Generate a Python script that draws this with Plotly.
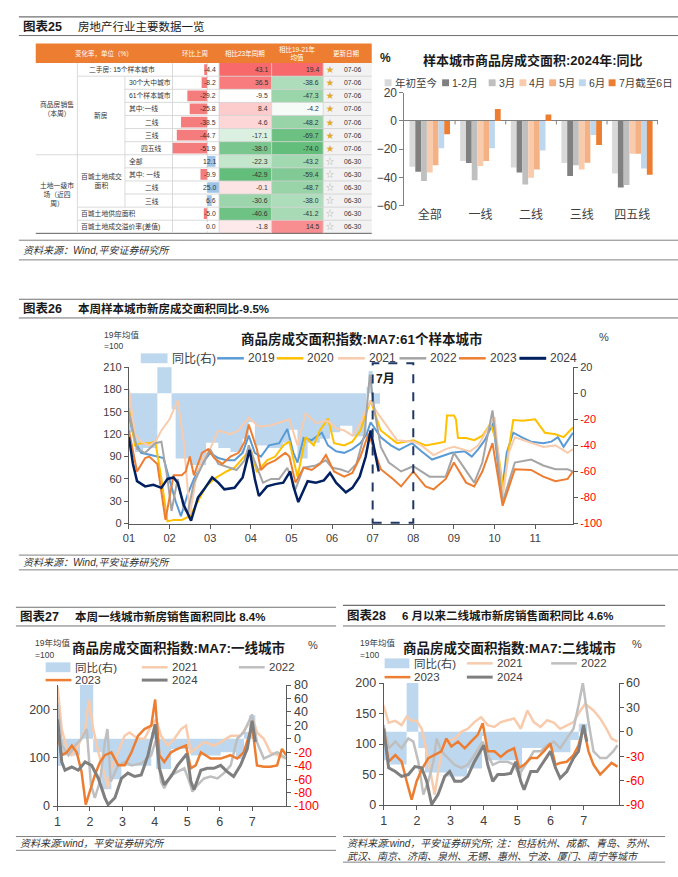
import plotly.graph_objects as go

W, H = 678, 877
FONT = "Liberation Sans, Noto Sans CJK SC, sans-serif"

# ---------------- 图表25 表格 ----------------
tbl_labels = ["二手房: 15个样本城市", "30个大中城市", "61个样本城市", "其中:一线", "二线", "三线", "四五线",
              "全部", "其中: 一线", "二线", "三线", "百城土地供应面积", "百城土地成交溢价率(差值)"]
wow = [-4.4, -8.2, -29.2, -25.8, -38.5, -44.7, -51.9, 12.1, -9.9, 25.0, 6.6, -5.0, 0.0]
vs23 = [43.1, 36.5, -9.5, 8.4, 4.6, -17.1, -38.0, -22.3, -42.9, -0.1, -30.6, -40.6, -1.8]
vs1921 = [19.4, -38.6, -47.3, -4.2, -48.2, -69.7, -74.0, -43.2, -59.4, -48.7, -38.0, -41.2, 14.5]
upd = ["07-06"] * 7 + ["06-30"] * 6

# ---------------- 图表25 柱状图 ----------------
cats = ["全部", "一线", "二线", "三线", "四五线"]
bar_names = ["年初至今", "1-2月", "3月", "4月", "5月", "6月", "7月截至6日"]
ytd = [-32.5, -28.4, -33.0, -29.8, -37.2]
janfeb = [-36.0, -29.8, -36.5, -39.0, -47.0]
mar = [-42.5, -41.9, -44.9, -31.4, -45.3]
apr = [-36.5, -31.9, -40.2, -34.4, -23.3]
may = [-31.4, -28.4, -34.4, -29.5, -23.3]
jun = [-19.3, -19.3, -20.9, -10.0, -33.7]
jul = [-9.5, 8.4, 4.6, -17.1, -38.0]

# ---------------- 图表26 61城 ----------------
c26_yoy_m = [1.0, 1.15, 1.35, 1.7, 2.05, 2.15, 2.5, 2.9, 3.2, 3.5, 3.8, 3.95, 4.1, 4.4, 4.8, 4.95, 5.15, 5.4,
             5.7, 5.95, 6.2, 6.5, 6.85, 6.9, 7.0, 7.18]
c26_yoy = [-30, -45, -42, 150, -12, -50, -55, -38, -42, -45, -35, -22, -40, -42, -38, -28, -50, -38,
           -35, -30, -25, -33, 5, 17, -8, -8]
m19 = [1.0, 1.15, 1.3, 1.5, 1.7, 1.85, 2.0, 2.15, 2.28, 2.45, 2.6, 2.8, 3.0, 3.2, 3.4, 3.6, 3.8, 3.95, 4.1, 4.25,
       4.45, 4.7, 4.9, 5.05, 5.15, 5.3, 5.5, 5.75, 5.9, 6.1, 6.3, 6.5, 6.7, 6.85, 6.95, 7.2, 7.45, 7.65, 7.97, 8.2,
       8.46, 8.7, 8.95, 9.27, 9.44, 9.6, 9.76, 9.97, 10.17, 10.3, 10.46, 10.7, 10.9, 11.2, 11.4, 11.56, 11.7, 11.93]
v19 = [145, 110, 95, 93, 90, 88, 60, 30, 10, 40, 60, 80, 95, 88, 85, 85, 95, 118, 95, 90,
       105, 108, 127, 95, 82, 115, 112, 122, 105, 97, 95, 100, 108, 120, 136, 116, 105, 99, 108, 97,
       86, 90, 95, 97, 90, 100, 112, 135, 37, 95, 122, 115, 110, 108, 110, 116, 103, 122]
m20 = [1.0, 1.15, 1.3, 1.5, 1.65, 1.8, 1.95, 2.1, 2.3, 2.5, 2.7, 2.9, 3.1, 3.4, 3.6, 3.85, 4.0, 4.15, 4.4, 4.6,
       4.8, 4.95, 5.15, 5.35, 5.55, 5.7, 5.9, 6.05, 6.3, 6.5, 6.7, 6.85, 6.95, 7.2, 7.6, 8.0, 8.3, 8.6, 8.78, 8.83,
       9.0, 9.05, 9.1, 9.3, 9.5, 9.7, 9.9, 10.05, 10.22, 10.35, 10.46, 10.7, 11.0, 11.24, 11.5, 11.7, 11.93]
v20 = [155, 105, 108, 108, 110, 60, 3, 5, 5, 10, 30, 50, 60, 70, 75, 90, 100, 69, 85, 90,
       105, 110, 63, 116, 105, 125, 141, 108, 105, 110, 125, 150, 165, 125, 108, 112, 105, 108, 110, 145,
       145, 140, 115, 115, 112, 118, 134, 110, 46, 100, 139, 138, 140, 122, 120, 116, 129]
m21 = [1.0, 1.15, 1.3, 1.5, 1.65, 1.8, 2.0, 2.2, 2.35, 2.5, 2.65, 2.8, 3.0, 3.2, 3.5, 3.7, 3.95, 4.2, 4.5, 4.8,
       4.95, 5.15, 5.35, 5.6, 5.9, 6.1, 6.3, 6.5, 6.7, 6.85, 6.95, 7.1, 7.3, 7.6, 8.0, 8.2, 8.5, 8.8, 9.0, 9.2,
       9.4, 9.6, 9.8, 10.0, 10.2, 10.35, 10.5, 10.8, 11.2, 11.5, 11.8, 11.93]
v21 = [180, 120, 110, 105, 110, 125, 140, 165, 110, 12, 60, 85, 100, 125, 120, 125, 142, 130, 132, 138,
       140, 105, 148, 135, 138, 128, 125, 118, 135, 155, 165, 150, 135, 112, 110, 105, 92, 100, 103, 100,
       97, 105, 125, 143, 37, 95, 116, 110, 103, 105, 95, 100]
m22 = [1.0, 1.2, 1.4, 1.65, 1.8, 1.95, 2.05, 2.2, 2.35, 2.45, 2.6, 2.9, 3.0, 3.2, 3.5, 3.65, 3.85, 3.95, 4.05,
       4.3, 4.5, 4.7, 4.9, 5.1, 5.3, 5.6, 5.85, 6.0, 6.2, 6.4, 6.6, 6.8, 6.93, 7.05, 7.2, 7.4, 7.7, 8.0, 8.4,
       8.8, 9.0, 9.3, 9.5, 9.7, 9.95, 10.2, 10.5, 10.9, 11.2, 11.5, 11.8, 11.93]
v22 = [150, 100, 95, 108, 110, 60, 17, 60, 20, 15, 55, 90, 100, 80, 75, 72, 85, 105, 90,
       55, 60, 60, 75, 46, 75, 78, 85, 75, 73, 69, 80, 120, 200, 150, 103, 82, 70, 77, 63,
       63, 95, 70, 55, 82, 152, 29, 82, 86, 78, 73, 73, 70]
m23 = [1.0, 1.2, 1.4, 1.5, 1.7, 1.9, 2.1, 2.3, 2.4, 2.5, 2.6, 2.8, 2.95, 3.1, 3.3, 3.5, 3.7, 3.85, 3.95, 4.15,
       4.25, 4.4, 4.6, 4.85, 4.95, 5.1, 5.3, 5.5, 5.7, 5.85, 6.05, 6.3, 6.5, 6.7, 6.9, 7.0, 7.2, 7.5, 7.7, 8.0,
       8.3, 8.5, 8.8, 9.0, 9.3, 9.5, 9.7, 9.95, 10.2, 10.5, 10.9, 11.2, 11.5, 11.8, 11.93]
v23 = [125, 70, 88, 90, 80, 5, 65, 65, 70, 90, 65, 95, 100, 88, 80, 90, 95, 110, 133, 100,
       72, 80, 85, 95, 90, 55, 75, 72, 80, 92, 70, 63, 68, 90, 121, 105, 73, 60, 50, 70,
       50, 46, 60, 82, 55, 50, 70, 108, 24, 73, 72, 63, 57, 60, 70]
m24 = [1.0, 1.1, 1.2, 1.4, 1.6, 1.8, 1.95, 2.1, 2.2, 2.35, 2.53, 2.7, 2.85, 3.05, 3.2, 3.35, 3.6, 3.8, 3.97, 4.1,
       4.2, 4.4, 4.6, 4.8, 4.97, 5.05, 5.17, 5.4, 5.6, 5.8, 5.95, 6.1, 6.34, 6.5, 6.68, 6.83, 6.95, 7.07, 7.15]
v24 = [116, 80, 57, 50, 52, 48, 60, 62, 55, 25, 4, 35, 46, 62, 55, 46, 48, 62, 99, 60,
       37, 50, 53, 55, 70, 50, 29, 57, 55, 58, 68, 55, 42, 48, 63, 90, 125, 90, 70]
m_ticks26 = ["01", "02", "03", "04", "05", "06", "07", "08", "09", "10", "11"]

# ---------------- 图表27 一线城市 ----------------
c27_yoy_m = [1.0, 1.13, 1.69, 2.1, 2.36, 2.66, 2.97, 3.89, 4.04, 4.5, 5.11, 6.03, 6.5, 6.75, 6.9, 7.1]
c27_yoy = [-40, -25, 100, -20, -75, -60, -40, 10, -45, -15, -25, -20, -30, 10, 35, 35]
a21 = [1.0, 1.13, 1.29, 1.44, 1.64, 1.85, 1.97, 2.1, 2.26, 2.46, 2.56, 2.66, 2.87, 3.07, 3.22, 3.48, 3.68, 3.89,
       4.04, 4.19, 4.4, 4.6, 4.81, 4.96, 5.11, 5.26, 5.52, 5.83, 6.03, 6.34, 6.64, 6.85, 7.0, 7.15, 7.36, 7.56, 7.77,
       8.05]
b21 = [247, 159, 118, 105, 125, 159, 220, 159, 111, 64, 37, 78, 111, 145, 152, 139, 139, 166,
       179, 145, 125, 139, 159, 166, 111, 118, 132, 125, 132, 145, 145, 166, 186, 152, 139, 111, 105, 98]
a22 = [1.0, 1.13, 1.34, 1.54, 1.74, 1.9, 2.03, 2.15, 2.31, 2.46, 2.54, 2.64, 2.87, 3.07, 3.28, 3.58, 3.89, 4.04,
       4.19, 4.29, 4.5, 4.7, 4.91, 5.06, 5.16, 5.32, 5.52, 5.72, 5.93, 6.13, 6.34, 6.54, 6.74, 7.0, 7.15, 7.36, 7.56,
       7.77, 8.05]
b22 = [213, 125, 105, 125, 139, 159, 44, 17, 51, 132, 159, 51, 84, 91, 84, 88, 105, 139,
       51, 37, 64, 71, 78, 51, 30, 44, 57, 61, 57, 68, 84, 139, 152, 189, 132, 98, 105, 111, 98]
a23 = [1.0, 1.13, 1.29, 1.44, 1.59, 1.74, 1.87, 2.0, 2.15, 2.31, 2.46, 2.66, 2.87, 3.07, 3.28, 3.48, 3.68, 3.89,
       4.01, 4.14, 4.29, 4.5, 4.7, 4.96, 5.11, 5.26, 5.42, 5.72, 6.03, 6.33, 6.54, 6.74, 7.0, 7.15, 7.36, 7.56, 7.77,
       7.92, 8.05]
b23 = [152, 105, 111, 125, 111, 71, 3, 30, 64, 91, 105, 111, 84, 84, 111, 145, 159, 166,
       220, 105, 91, 111, 118, 125, 78, 84, 111, 98, 98, 105, 98, 111, 166, 84, 81, 81, 84, 118, 105]
a24 = [1.0, 1.13, 1.23, 1.44, 1.64, 1.85, 2.05, 2.26, 2.46, 2.56, 2.77, 2.97, 3.17, 3.38, 3.58, 3.79, 4.01, 4.14,
       4.29, 4.5, 4.7, 4.99, 5.11, 5.21, 5.42, 5.62, 5.82, 6.03, 6.23, 6.43, 6.64, 6.85, 7.0, 7.1]
b24 = [179, 91, 74, 81, 74, 91, 84, 57, 17, 3, 17, 57, 68, 61, 64, 105, 169, 78,
       44, 61, 84, 108, 51, 34, 74, 78, 78, 84, 71, 61, 84, 118, 176, 132]

# ---------------- 图表28 二线城市 ----------------
c28_yoy_m = [1.0, 1.2, 1.69, 2.04, 2.24, 2.9, 3.5, 3.95, 4.05, 5.0, 5.15, 6.0, 6.6, 6.85, 7.1]
c28_yoy = [-35, -40, 100, -20, -50, -55, -45, -5, -35, -55, -20, -25, -10, 10, 10]
e21 = [1.0, 1.15, 1.35, 1.54, 1.69, 1.84, 1.99, 2.14, 2.29, 2.44, 2.53, 2.73, 2.88, 3.13, 3.33, 3.52, 3.72, 3.92,
       4.12, 4.32, 4.51, 4.71, 4.91, 5.11, 5.31, 5.5, 5.7, 5.9, 6.1, 6.29, 6.49, 6.69, 6.84, 7.04, 7.29, 7.49, 7.68,
       7.83, 8.01]
f21 = [163, 135, 138, 131, 145, 138, 138, 125, 88, 40, 17, 88, 104, 109, 120, 125, 136, 144,
       131, 128, 136, 139, 142, 125, 155, 136, 128, 139, 135, 125, 131, 136, 150, 166, 155, 142, 125, 109, 104]
e22 = [1.0, 1.15, 1.35, 1.54, 1.74, 1.89, 2.04, 2.19, 2.34, 2.49, 2.59, 2.73, 2.93, 3.13, 3.33, 3.52, 3.72, 3.97,
       4.12, 4.27, 4.47, 4.71, 4.91, 5.06, 5.31, 5.5, 5.7, 5.9, 6.1, 6.29, 6.49, 6.69, 6.84, 6.97, 7.14, 7.29, 7.49,
       7.68, 7.88, 8.01]
f22 = [131, 93, 104, 93, 109, 104, 71, 17, 39, 71, 109, 88, 77, 66, 61, 66, 82, 104,
       82, 66, 71, 71, 66, 50, 71, 88, 88, 98, 104, 93, 109, 125, 163, 200, 136, 88, 77, 77, 88, 98]
e23 = [1.0, 1.15, 1.35, 1.54, 1.69, 1.84, 1.99, 2.14, 2.34, 2.53, 2.73, 2.88, 3.03, 3.23, 3.43, 3.62, 3.82, 3.97,
       4.12, 4.32, 4.51, 4.71, 4.91, 5.06, 5.21, 5.41, 5.6, 5.8, 6.0, 6.15, 6.29, 6.49, 6.69, 6.84, 6.99, 7.14, 7.29,
       7.49, 7.68, 7.83, 8.01]
f23 = [125, 71, 82, 71, 39, 9, 39, 58, 77, 82, 88, 109, 96, 104, 93, 104, 115, 134,
       88, 88, 79, 88, 93, 61, 66, 77, 77, 88, 101, 66, 69, 71, 82, 98, 128, 88, 66, 50, 61, 69, 63]
e24 = [1.0, 1.15, 1.35, 1.54, 1.74, 1.94, 2.14, 2.29, 2.44, 2.63, 2.83, 2.98, 3.13, 3.33, 3.52, 3.72, 4.0, 4.12,
       4.27, 4.42, 4.61, 4.81, 4.96, 5.11, 5.21, 5.41, 5.6, 5.8, 6.0, 6.15, 6.29, 6.49, 6.69, 6.84, 6.99, 7.09]
f24 = [125, 61, 55, 47, 50, 63, 61, 39, 1, 17, 47, 55, 39, 39, 47, 71, 98, 66,
       39, 50, 50, 52, 71, 39, 25, 55, 55, 71, 88, 61, 44, 55, 77, 88, 131, 104]
m_ticks7 = ["1", "2", "3", "4", "5", "6", "7"]


def px(x):
    return x / W


def py(y):
    return 1 - y / H


shapes = []
ann = []


def line(x0, y0, x1, y1, color="#808080", width=1, dash="solid"):
    shapes.append(dict(type="line", xref="paper", yref="paper", x0=px(x0), y0=py(y0), x1=px(x1), y1=py(y1),
                       line=dict(color=color, width=width, dash=dash)))


def rect(x0, y0, x1, y1, fill, layer="below"):
    shapes.append(dict(type="rect", xref="paper", yref="paper", x0=px(x0), y0=py(y0), x1=px(x1), y1=py(y1),
                       fillcolor=fill, line=dict(width=0), layer=layer))


def txt(x, y, s, size=10, color="#000000", anchor="left"):
    ann.append(dict(x=px(x), y=py(y), xref="paper", yref="paper", text=s, showarrow=False, xanchor=anchor,
                    yanchor="middle", font=dict(size=size, color=color, family=FONT)))


def mix(c, t):
    # white -> c
    r, g, b = int(c[1:3], 16), int(c[3:5], 16), int(c[5:7], 16)
    t = max(0.0, min(1.0, t))
    return "rgb(%d,%d,%d)" % (255 + (r - 255) * t, 255 + (g - 255) * t, 255 + (b - 255) * t)


def scale_color(v, mid, lo, hi):
    if v >= mid:
        return mix("#f8696b", (v - mid) / (hi - mid))
    return mix("#63be7b", (mid - v) / (mid - lo))


# ---------- section headers ----------
def header(x0, x1, ytop, ybot, label, title, bold_title):
    line(x0, ytop, x1, ytop, "#707070", 1.2)
    line(x0, ybot, x1, ybot, "#707070", 1)
    yc = (ytop + ybot) / 2
    txt(x0 + 2, yc, "<b>%s</b>" % label, 12.5, "#1a1a1a")
    txt(x0 + 58, yc, ("<b>%s</b>" % title) if bold_title else title, 11.5, "#1a1a1a")


header(13, 678, 10, 29, "图表25", "房地产行业主要数据一览", False)
header(13, 678, 297, 316, "图表26", "本周样本城市新房成交面积同比-9.5%", True)
header(10, 333, 610, 629, "图表27", "本周一线城市新房销售面积同比 8.4%", True)
header(340, 665, 608, 629, "图表28", "6 月以来二线城市新房销售面积同比 4.6%", True)

# sources
line(13, 237, 678, 237)
txt(15, 247, "<i>资料来源：Wind,平安证券研究所</i>", 10, "#333333")
line(13, 257, 678, 257)
line(13, 557, 678, 557)
txt(15, 565, "<i>资料来源：Wind,平安证券研究所</i>", 10, "#333333")
line(13, 572, 678, 572)
line(10, 843, 333, 843)
txt(12, 850, "<i>资料来源:wind，平安证券研究所</i>", 10, "#333333")
line(10, 857, 333, 857)
line(340, 843, 665, 843)
txt(342, 850, "<i>资料来源:wind，平安证券研究所; 注：包括杭州、成都、青岛、苏州、</i>", 10, "#333333")
txt(342, 863, "<i>武汉、南京、济南、泉州、无锡、惠州、宁波、厦门、南宁等城市</i>", 10, "#333333")
line(340, 869, 665, 869)

# ---------- table ----------
TX0, TX1 = 30, 369
HY0, HY1 = 37, 57
RH = (230 - 57) / 13
rect(TX0, HY0, TX1, HY1, "#ed7d31")
hsz = 6.5
txt((30 + 168) / 2, 47, "变化率，单位（%）", hsz, "white", "center")
txt(191, 47, "环比上周", hsz, "white", "center")
txt(241, 47, "相比23年同期", hsz, "white", "center")
txt(294, 47, "相比19-21年<br>均值", hsz, "white", "center")
txt(344, 47, "更新日期", hsz, "white", "center")


def ry(i):
    return HY1 + i * RH


rect(320, HY1, 369, 230, "#f2f2f2")
for i in range(13):
    rect(215, ry(i), 268, ry(i + 1), scale_color(vs23[i], -9.5, -42.9, 43.1))
    rect(268, ry(i), 320, ry(i + 1), scale_color(vs1921[i], 0, -74.0, 19.4))

# horizontal grid lines
starts = {1: 72, 2: 120, 3: 120, 4: 120, 5: 120, 6: 120, 7: 30, 8: 120, 9: 120, 10: 120, 11: 72, 12: 72}
for k, xs in starts.items():
    line(xs, ry(k), TX1, ry(k), "#d0d0d0", 0.8)
line(TX0, 230, TX1, 230, "#606060", 1)
for x in [72, 168, 215, 268, 320]:
    line(x, HY1, x, 230, "#d0d0d0", 0.8)
line(120, ry(1), 120, ry(11), "#d0d0d0", 0.8)
line(203, HY1, 203, 230, "#c0c0c0", 0.6, "dot")

tsz = 6.8
tcol = "#333333"
txt(51, ry(3.5), "商品房销售<br>（本周）", tsz, tcol, "center")
txt(51, ry(10), "土地一级市<br>场（近四<br>周）", tsz, tcol, "center")
txt(96, ry(4), "新房", tsz, tcol, "center")
txt(96, ry(9), "百城土地成交<br>面积", tsz, tcol, "center")
for i, lab in enumerate(tbl_labels):
    yc = ry(i + 0.5)
    if i == 0:
        txt(117, yc, lab, tsz, tcol, "center")
    elif i >= 11:
        txt(74, yc, lab, tsz, tcol, "left")
    elif lab in ("二线", "三线", "四五线"):
        txt(147, yc, lab, tsz, tcol, "center")
    else:
        txt(122, yc, lab, tsz, tcol, "left")
    txt(214, yc, "%.1f" % wow[i], tsz, tcol, "right")
    txt(266, yc, "%.1f" % vs23[i], tsz, tcol, "right")
    txt(318, yc, "%.1f" % vs1921[i], tsz, tcol, "right")
    if i < 7:
        txt(327, yc, "★", 8, "#e0a82e", "center")
    else:
        txt(327, yc, "☆", 8, "#b0b0b0", "center")
    txt(350, yc, upd[i], tsz, tcol, "center")

fig = go.Figure()

# table data bars
fig.add_trace(go.Bar(x=wow, y=list(range(13)), orientation="h", xaxis="x2", yaxis="y2", width=0.82,
                     marker=dict(color=["#f47c7c" if v < 0 else "#9dc3e6" for v in wow], line=dict(width=0)),
                     showlegend=False, hoverinfo="skip"))

# ---------- 图表25 bar chart ----------
bar_cols = ["#d9d9d9", "#808080", "#bfbfbf", "#f8cbad", "#f4b183", "#bdd7ee", "#ed7d31"]
for name, vals, c in zip(bar_names, [ytd, janfeb, mar, apr, may, jun, jul], bar_cols):
    fig.add_trace(go.Bar(x=cats, y=vals, name=name, marker=dict(color=c, line=dict(width=0)),
                         xaxis="x", yaxis="y", showlegend=False))
for b in [0.5, 1.5, 2.5, 3.5, 4.5]:
    shapes.append(dict(type="line", xref="x", yref="y", x0=b, x1=b, y0=0, y1=-2.5,
                       line=dict(color="#808080", width=1)))
txt(383, 52, "<b>%</b>", 12, "#1a1a1a", "center")
txt(532, 54, "<b>样本城市商品房成交面积:2024年:同比</b>", 13, "#1a1a1a", "center")
lx = [382, 440, 487, 518, 548, 578, 608]
for x, name, c in zip(lx, bar_names, bar_cols):
    rect(x, 73.5, x + 7, 80.5, c, "above")
    txt(x + 8, 77, name, 10.5, "#404040", "left")

# ---------- 图表26 ----------
fig.add_trace(go.Scatter(x=c26_yoy_m, y=c26_yoy, xaxis="x3", yaxis="y3", mode="lines",
                         line=dict(width=0, shape="hv"), fill="tozeroy", fillcolor="#bdd7ee",
                         showlegend=False, hoverinfo="skip"))
c26_series = [(m19, v19, "#5b9bd5", 2), (m20, v20, "#ffc000", 2), (m21, v21, "#f8cbad", 2),
              (m22, v22, "#a5a5a5", 2), (m23, v23, "#ed7d31", 2), (m24, v24, "#002060", 2.5)]
for m, v, c, w in c26_series:
    fig.add_trace(go.Scatter(x=m, y=v, xaxis="x3", yaxis="y4", mode="lines", line=dict(color=c, width=w),
                             showlegend=False, hoverinfo="skip"))
txt(97, 333, "19年均值", 8.5, "#404040")
txt(97, 345, "=100", 8.5, "#404040")
txt(359, 337, "<b>商品房成交面积指数:MA7:61个样本城市</b>", 13.5, "#1a1a1a", "center")
txt(603, 335, "%", 11, "#404040", "center")
rect(136, 352, 163, 362, "#bdd7ee", "above")
txt(165, 357, "同比(右)", 12, "#404040")
for x, yr, c, w in zip([213, 273, 335, 397, 457, 518], ["2019", "2020", "2021", "2022", "2023", "2024"],
                       ["#5b9bd5", "#ffc000", "#f8cbad", "#a5a5a5", "#ed7d31", "#002060"],
                       [2, 2, 2, 2, 2, 2.5]):
    line(x, 357, x + 27, 357, c, w + 0.5)
    txt(x + 29, 357, yr, 12, "#404040")
shapes.append(dict(type="rect", xref="x3", yref="paper", x0=7, x1=8, y0=py(524), y1=py(362),
                   line=dict(color="#1f3864", width=2, dash="dash"), fillcolor="rgba(0,0,0,0)"))
txt(383, 378, "<b>7月</b>", 12, "#1a1a1a", "center")

# ---------- 图表27 ----------
fig.add_trace(go.Scatter(x=c27_yoy_m, y=c27_yoy, xaxis="x4", yaxis="y5", mode="lines",
                         line=dict(width=0, shape="hv"), fill="tozeroy", fillcolor="#bdd7ee",
                         showlegend=False, hoverinfo="skip"))
small_series = [("2021", "#f8cbad", 2.5), ("2022", "#bfbfbf", 2.5), ("2023", "#ed7d31", 2.5), ("2024", "#7f7f7f", 3)]
for (m, v), (nm, c, w) in zip([(a21, b21), (a22, b22), (a23, b23), (a24, b24)], small_series):
    fig.add_trace(go.Scatter(x=m, y=v, xaxis="x4", yaxis="y6", mode="lines", line=dict(color=c, width=w),
                             showlegend=False, hoverinfo="skip"))
txt(27, 646, "19年均值", 8.5, "#404040")
txt(27, 659, "=100", 8.5, "#404040")
txt(174, 651, "<b>商品房成交面积指数:MA7:一线城市</b>", 13.5, "#1a1a1a", "center")
txt(310, 648, "%", 11, "#404040", "center")

# ---------- 图表28 ----------
fig.add_trace(go.Scatter(x=c28_yoy_m, y=c28_yoy, xaxis="x5", yaxis="y7", mode="lines",
                         line=dict(width=0, shape="hv"), fill="tozeroy", fillcolor="#bdd7ee",
                         showlegend=False, hoverinfo="skip"))
for (m, v), (nm, c, w) in zip([(e21, f21), (e22, f22), (e23, f23), (e24, f24)], small_series):
    fig.add_trace(go.Scatter(x=m, y=v, xaxis="x5", yaxis="y8", mode="lines", line=dict(color=c, width=w),
                             showlegend=False, hoverinfo="skip"))
txt(355, 646, "19年均值", 8.5, "#404040")
txt(355, 659, "=100", 8.5, "#404040")
txt(508, 651, "<b>商品房成交面积指数:MA7:二线城市</b>", 13.5, "#1a1a1a", "center")
txt(637, 647, "%", 11, "#404040", "center")

# manual legends for 27 / 28
for bx, r1, r2 in [(40, 671, 684), (382, 667, 681)]:
    rect(bx, r1 - 5, bx + 25, r1 + 5, "#bdd7ee", "above")
    txt(bx + 28, r1, "同比(右)", 11.5, "#404040")
    pos = [(bx + 97, r1), (bx + 195, r1), (bx, r2), (bx + 97, r2)] if bx == 40 else \
        [(bx + 83, r1), (bx + 168, r1), (bx, r2), (bx + 83, r2)]
    for (x, y), (nm, c, w) in zip(pos, small_series):
        line(x, y, x + 26, y, c, w)
        txt(x + 28, y, nm, 11.5, "#404040")


def red_ticks(vals):
    return [str(v) if v >= 0 else "<span style='color:#ff0000'>%d</span>" % v for v in vals]


ax_common = dict(showgrid=False, zeroline=False, showline=True, linecolor="#595959", linewidth=1,
                 ticks="outside", ticklen=4, tickcolor="#595959", tickfont=dict(size=11, color="#404040", family=FONT))

r26 = [20, 0, -20, -40, -60, -80, -100]
r27 = [80, 60, 40, 20, 0, -20, -40, -60, -80, -100]
r28 = [60, 30, 0, -30, -60, -90]

fig.update_layout(
    width=W, height=H, margin=dict(l=0, r=0, t=0, b=0), autosize=False,
    paper_bgcolor="white", plot_bgcolor="rgba(0,0,0,0)",
    font=dict(family=FONT, color="#404040"),
    barmode="group", bargap=0.2, bargroupgap=0,
    showlegend=False,
    xaxis=dict(domain=[px(402), px(658)], anchor="y", showgrid=False, showline=False, zeroline=False,
               ticks="", tickfont=dict(size=12, color="#404040", family=FONT)),
    yaxis=dict(domain=[py(202), py(87)], anchor="x", range=[-60, 20], dtick=20, showgrid=False,
               zeroline=True, zerolinecolor="#808080", zerolinewidth=1, showline=True, linecolor="#808080",
               ticks="outside", ticklen=4, tickcolor="#808080", tickfont=dict(size=12, color="#404040", family=FONT)),
    xaxis2=dict(domain=[px(167), px(215)], anchor="y2", range=[-52.5, 17.5], visible=False),
    yaxis2=dict(domain=[py(230), py(57)], anchor="x2", range=[12.5, -0.5], visible=False),
    xaxis3=dict(domain=[px(124), px(572)], anchor="y3", range=[1, 11.93], tickvals=list(range(1, 12)),
                ticktext=m_ticks26, **ax_common),
    yaxis3=dict(domain=[py(525), py(366)], anchor="x3", side="right", range=[-100, 20], tickvals=r26,
                ticktext=red_ticks(r26), **ax_common),
    yaxis4=dict(overlaying="y3", anchor="x3", side="left", range=[0, 210], dtick=30, **ax_common),
    xaxis4=dict(domain=[px(52), px(283)], anchor="y5", range=[1, 8.06], tickvals=list(range(1, 8)),
                ticktext=m_ticks7, **ax_common),
    yaxis5=dict(domain=[py(812), py(689)], anchor="x4", side="right", range=[-100, 80], tickvals=r27,
                ticktext=red_ticks(r27), **ax_common),
    yaxis6=dict(overlaying="y5", anchor="x4", side="left", range=[0, 250], tickvals=[0, 100, 200], **ax_common),
    xaxis5=dict(domain=[px(381), px(618)], anchor="y7", range=[1, 8.04], tickvals=list(range(1, 8)),
                ticktext=m_ticks7, **ax_common),
    yaxis7=dict(domain=[py(811), py(687)], anchor="x5", side="right", range=[-90, 60], tickvals=r28,
                ticktext=red_ticks(r28), **ax_common),
    yaxis8=dict(overlaying="y7", anchor="x5", side="left", range=[0, 200], dtick=50, **ax_common),
    shapes=shapes, annotations=ann,
)
for ax in ["xaxis4", "xaxis5", "yaxis5", "yaxis6", "yaxis7", "yaxis8"]:
    fig.layout[ax].tickfont.size = 12.5

fig.write_html("out.html", config={"displayModeBar": False},
               post_script="document.body.style.margin='0';document.body.style.overflow='hidden';")
